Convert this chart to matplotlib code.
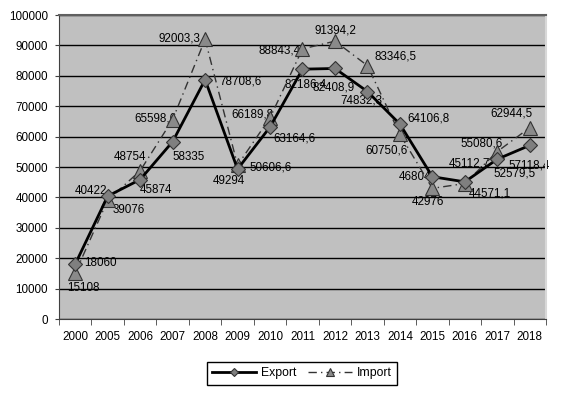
import numpy as np
import matplotlib.pyplot as plt

#__Datos__################################
years = ['2000', '2005', '2006', '2007', '2008', '2009', '2010', '2011',
         '2012', '2013', '2014', '2015', '2016', '2017', '2018']
export = [18060, 40422, 45874, 58335, 78708.6, 49294, 63164.6, 82186.4,
          82408.9, 74832.3, 64106.8, 46804, 45112.7, 52579.5, 57118.4]
imports = [15108, 39076, 48754, 65598.6, 92003.3, 50606.6, 66189.8, 88843.4,
           91394.2, 83346.5, 60750.6, 42976, 44571.1, 55080.6, 62944.5]
###########################################

#__Posicion de etiquetas (dx, dy en pixeles, alineacion)__
exp_off = [(9, 1, 'left'), (0, 5, 'right'), (0, -10, 'left'), (0, -15, 'left'),
           (14, -2, 'left'), (-9, -12, 'center'), (3, -12, 'left'),
           (-18, -15, 'left'), (-22, -19, 'left'), (-27, -9, 'left'),
           (7, 6, 'left'), (-1, 0, 'right'), (-16, 18, 'left'),
           (-4, -14, 'left'), (-21, -20, 'left')]
imp_off = [(8, -15, 'center'), (5, -10, 'left'), (6, 14, 'right'),
           (4, 1, 'right'), (-5, 1, 'right'), (12, -2, 'left'),
           (3, 3, 'right'), (-2, -2, 'right'), (0, 11, 'center'),
           (7, 9, 'left'), (8, -16, 'right'), (-4, -14, 'center'),
           (4, -10, 'left'), (5, 8, 'right'), (3, 14, 'right')]

def fmt(v):
    if float(v).is_integer():
        return str(int(v))
    return f'{v:.1f}'.replace('.', ',')

plt.rcParams['font.family'] = ['Liberation Sans', 'DejaVu Sans']
fs = 8.4

fig = plt.figure(figsize=(5.61, 3.93), dpi=100)
ax = fig.add_axes([59/561, 1-319/393, (546-59)/561, (319-15)/393])
ax.set_facecolor('#c0c0c0')

x = np.arange(len(years))
l1, = ax.plot(x, export, '-', color='black', lw=2, marker='D', ms=7.5,
              mfc='#7f7f7f', mec='#333333', mew=0.8, zorder=4, label='Export')
l2, = ax.plot(x, imports, color='#333333', lw=1, dashes=(6, 3, 1, 3),
              marker='^', ms=10, mfc='#8a8a8a', mec='#333333', mew=0.8,
              zorder=3, label='Import')

for i in range(len(years)):
    dx, dy, ha = exp_off[i]
    ax.annotate(fmt(export[i]), (x[i], export[i]), xytext=(dx, dy),
                textcoords='offset pixels', ha=ha, va='center', fontsize=fs,
                color='black', zorder=2)
    dx, dy, ha = imp_off[i]
    ax.annotate(fmt(imports[i]), (x[i], imports[i]), xytext=(dx, dy),
                textcoords='offset pixels', ha=ha, va='center', fontsize=fs,
                color='black', zorder=2)

ax.set_xlim(-0.5, len(years) - 0.5)
ax.set_ylim(0, 100000)
ax.set_yticks(np.arange(0, 100001, 10000))
ax.set_yticklabels([str(v) for v in range(0, 100001, 10000)], fontsize=fs)
ax.set_xticks(x)
ax.set_xticklabels(years, fontsize=fs)
ax.set_xticks(np.arange(-0.5, len(years), 1), minor=True)
ax.tick_params(axis='x', which='major', length=0, pad=9)
ax.tick_params(axis='x', which='minor', length=4, direction='out', color='#404040')
ax.tick_params(axis='y', length=3, direction='out', pad=5, color='#404040')
ax.yaxis.grid(True, color='black', lw=1)
ax.set_axisbelow(True)

ax.spines['left'].set_color('#404040')
ax.spines['bottom'].set_color('#404040')
ax.spines['top'].set_color('#606060')
ax.spines['top'].set_linewidth(1.5)
ax.spines['right'].set_color('#d8d8d8')
ax.spines['right'].set_linewidth(1.5)

leg = fig.legend(handles=[l1, l2], loc='center', ncol=2,
                 bbox_to_anchor=(302/561, 1-373/393), fontsize=8.8,
                 fancybox=False, edgecolor='black', framealpha=1,
                 handlelength=3.6, handletextpad=0.4, columnspacing=0.9,
                 borderpad=0.45, markerscale=0.6)
leg.get_frame().set_linewidth(1)

fig.savefig('out.png', dpi=100)
